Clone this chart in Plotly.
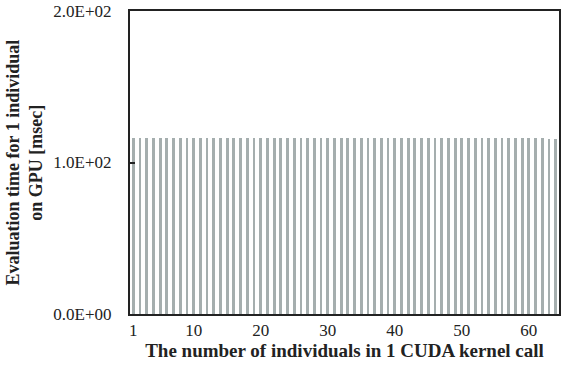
import plotly.graph_objects as go

individuals = list(range(1, 65))
eval_time_msec = [116.5] * 60 + [116.2, 116.0, 115.8, 115.6]
x_tick_vals = [1, 10, 20, 30, 40, 50, 60]
y_tick_vals = [0, 100, 200]
y_tick_text = ["0.0E+00", "1.0E+02", "2.0E+02"]
y_range = [0, 200.001]

fig = go.Figure()
fig.add_trace(go.Bar(
    x=individuals, y=eval_time_msec,
    marker=dict(color="#A5AEAE", line=dict(width=0)),
    width=0.42,
))
# empty trace so the overlay axis (inside tick marks) is drawn
fig.add_trace(go.Scatter(x=[], y=[], yaxis="y2", showlegend=False, hoverinfo="skip"))

font = "Liberation Serif, Times New Roman, serif"
fig.update_layout(
    width=563, height=373,
    margin=dict(l=130, r=2, t=5, b=59),
    paper_bgcolor="white", plot_bgcolor="white",
    font=dict(family=font, size=17, color="#222"),
    showlegend=False,
    bargap=0,
    xaxis=dict(
        range=[0.5, 64.5], tickmode="array", tickvals=x_tick_vals,
        ticks="", showgrid=False, zeroline=False,
        showline=True, linecolor="#222", linewidth=2, mirror=True,
        tickfont=dict(size=17),
        title=dict(text="<b>The number of individuals in 1 CUDA kernel call</b>",
                   font=dict(size=19), standoff=4),
    ),
    yaxis=dict(
        range=y_range, tickmode="array", tickvals=y_tick_vals, ticktext=y_tick_text,
        ticks="outside", ticklen=13, tickcolor="rgba(0,0,0,0)", showgrid=False,
        zeroline=False, showline=True, linecolor="#222", linewidth=2, mirror=True,
        tickfont=dict(size=17), ticklabeloverflow="allow",
    ),
    yaxis2=dict(overlaying="y", side="left", range=y_range, tickmode="array",
                tickvals=y_tick_vals, showticklabels=False, ticks="inside",
                ticklen=5, tickcolor="#222", tickwidth=1.5, showgrid=False,
                zeroline=False, showline=False),
    annotations=[dict(
        text="<b>Evaluation time for 1 individual<br>on GPU [msec]</b>",
        x=0, xref="paper", xanchor="center", xshift=-106,
        y=0.5, yref="paper", yanchor="middle",
        textangle=-90, showarrow=False,
        font=dict(family=font, size=18, color="#222"),
    )],
)
fig.write_html("out.html")
